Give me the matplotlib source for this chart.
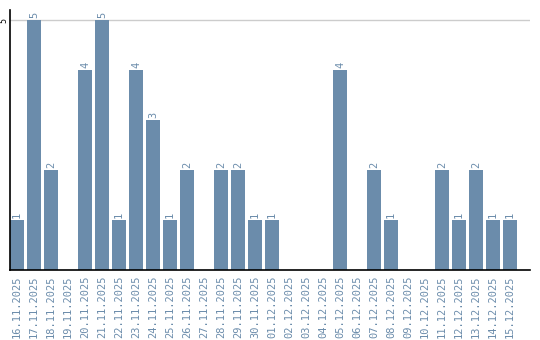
import matplotlib
matplotlib.use("Agg")
import matplotlib.pyplot as plt

dates = ["16.11.2025", "17.11.2025", "18.11.2025", "19.11.2025", "20.11.2025",
         "21.11.2025", "22.11.2025", "23.11.2025", "24.11.2025", "25.11.2025",
         "26.11.2025", "27.11.2025", "28.11.2025", "29.11.2025", "30.11.2025",
         "01.12.2025", "02.12.2025", "03.12.2025", "04.12.2025", "05.12.2025",
         "06.12.2025", "07.12.2025", "08.12.2025", "09.12.2025", "10.12.2025",
         "11.12.2025", "12.12.2025", "13.12.2025", "14.12.2025", "15.12.2025"]
counts = [1, 5, 2, 0, 4, 5, 1, 4, 3, 1, 2, 0, 2, 2, 1,
          1, 0, 0, 0, 4, 0, 2, 1, 0, 0, 2, 1, 2, 1, 1]

bar_color = "#6b8cab"
label_color = "#6b8cab"

fig = plt.figure(figsize=(5.4, 3.4), dpi=100)
ax = fig.add_axes([10 / 540, 70 / 340, 520 / 540, 260 / 340])

x = range(len(dates))
ax.bar(x, counts, width=0.82, color=bar_color, zorder=2)

for xi, v in zip(x, counts):
    if v > 0:
        ax.text(xi, v + 0.05, str(v), rotation=90, ha="center", va="bottom",
                fontsize=7.5, color=label_color, family="DejaVu Sans Mono")

ax.set_xlim(-0.41, 30.18)
ax.set_ylim(0, 5.2)
ax.set_yticks([5])
ax.set_yticklabels(["5"], rotation=90, va="center", fontsize=6,
                   family="DejaVu Sans Mono")
ax.yaxis.grid(True, color="#cccccc", linewidth=1, zorder=0)
ax.tick_params(axis="y", length=0, pad=1)

ax.set_xticks(list(x))
ax.set_xticklabels(dates, rotation=90, fontsize=7.5, color=label_color,
                   family="DejaVu Sans Mono")
ax.tick_params(axis="x", length=0, pad=4)

for side in ["top", "right"]:
    ax.spines[side].set_visible(False)
ax.spines["left"].set_color("black")
ax.spines["bottom"].set_color("black")
ax.spines["left"].set_linewidth(1.2)
ax.spines["bottom"].set_linewidth(1.2)

fig.savefig("out.png", dpi=100)
